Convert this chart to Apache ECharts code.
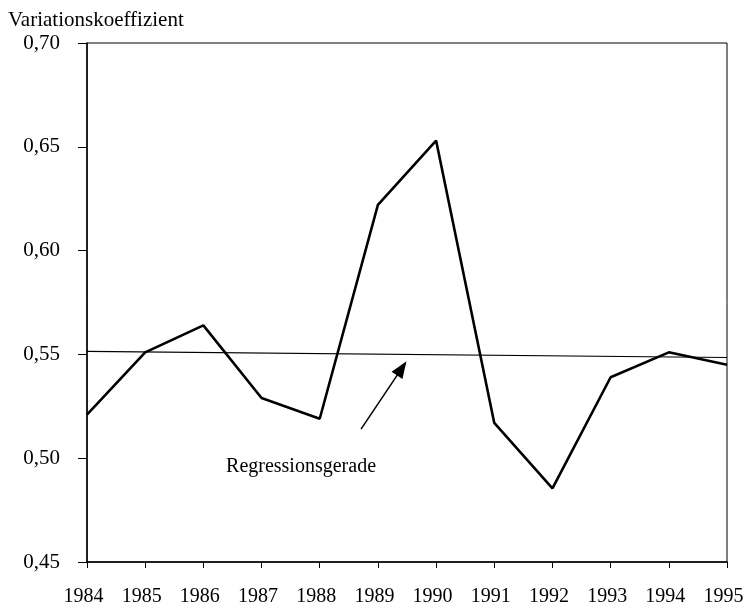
<!DOCTYPE html>
<html>
<head>
<meta charset="utf-8">
<script src="https://cdn.jsdelivr.net/npm/echarts@6/dist/echarts.min.js"></script>
<style>
    html, body { margin: 0; padding: 0; background: #fff; }
    #chart { width: 746px; height: 607px; }
</style>
</head>
<body>
<div id="chart"></div>
<script>
    // Werte
    var years = [1984, 1985, 1986, 1987, 1988, 1989, 1990, 1991, 1992, 1993, 1994, 1995];
    var koeff = [0.521, 0.551, 0.564, 0.529, 0.519, 0.622, 0.653, 0.517, 0.4855, 0.539, 0.551, 0.545];
    var regression = [[1984, 0.5515], [1995, 0.5485]];
    var arrowFrom = [1988.71, 0.514];
    var arrowTo = [1989.41, 0.5433];
    var labelPos = [1986.39, 0.496];
    var labelText = 'Regressionsgerade';
    var yTitle = 'Variationskoeffizient';

    var font = "'Liberation Serif', 'Times New Roman', serif";

    var chart = echarts.init(document.getElementById('chart'));
    var lineData = years.map(function (y, i) { return [y, koeff[i]]; });

    chart.setOption({
        animation: false,
        backgroundColor: '#fff',
        title: {
            text: yTitle,
            left: 3,
            top: 5,
            textStyle: { fontFamily: font, fontSize: 21, fontWeight: 'normal', color: '#000' }
        },
        grid: {
            left: 87,
            right: 19,
            top: 43,
            bottom: 45,
            outerBoundsMode: 'none',
            containLabel: false,
            show: true,
            borderColor: '#000',
            borderWidth: 1
        },
        xAxis: {
            type: 'value',
            min: 1984,
            max: 1995,
            interval: 1,
            splitLine: { show: false },
            axisLine: { lineStyle: { color: '#000', width: 1.5 } },
            axisTick: { length: 6, lineStyle: { color: '#000' } },
            axisLabel: {
                margin: 25,
                color: '#000',
                fontFamily: font,
                fontSize: 20,
                padding: [0, 7, 0, 0],
                formatter: function (v) { return String(v); }
            }
        },
        yAxis: {
            type: 'value',
            min: 0.45,
            max: 0.70,
            interval: 0.05,
            splitLine: { show: false },
            axisLine: { show: true, lineStyle: { color: '#000', width: 1.5 } },
            axisTick: { show: true, length: 9, lineStyle: { color: '#000' } },
            axisLabel: {
                margin: 27,
                color: '#000',
                fontFamily: font,
                fontSize: 21,
                formatter: function (v) { return v.toFixed(2).replace('.', ','); }
            }
        },
        series: [
            {
                type: 'line',
                data: lineData,
                symbol: 'none',
                lineStyle: { color: '#000', width: 2.6 },
                z: 3
            },
            {
                type: 'line',
                data: regression,
                symbol: 'none',
                lineStyle: { color: '#000', width: 1.2 },
                markLine: {
                    silent: true,
                    symbolSize: [13, 17],
                    lineStyle: { color: '#000', width: 1.5, type: 'solid' },
                    label: { show: false },
                    data: [[
                        { coord: arrowFrom, symbol: 'none' },
                        { coord: arrowTo, symbol: 'triangle' }
                    ]]
                }
            },
            {
                type: 'scatter',
                data: [labelPos],
                symbolSize: 0,
                silent: true,
                itemStyle: { opacity: 1 },
                label: {
                    show: true,
                    position: 'right',
                    distance: 0,
                    formatter: labelText,
                    color: '#000',
                    fontFamily: font,
                    fontSize: 20
                }
            }
        ]
    });
</script>
</body>
</html>
